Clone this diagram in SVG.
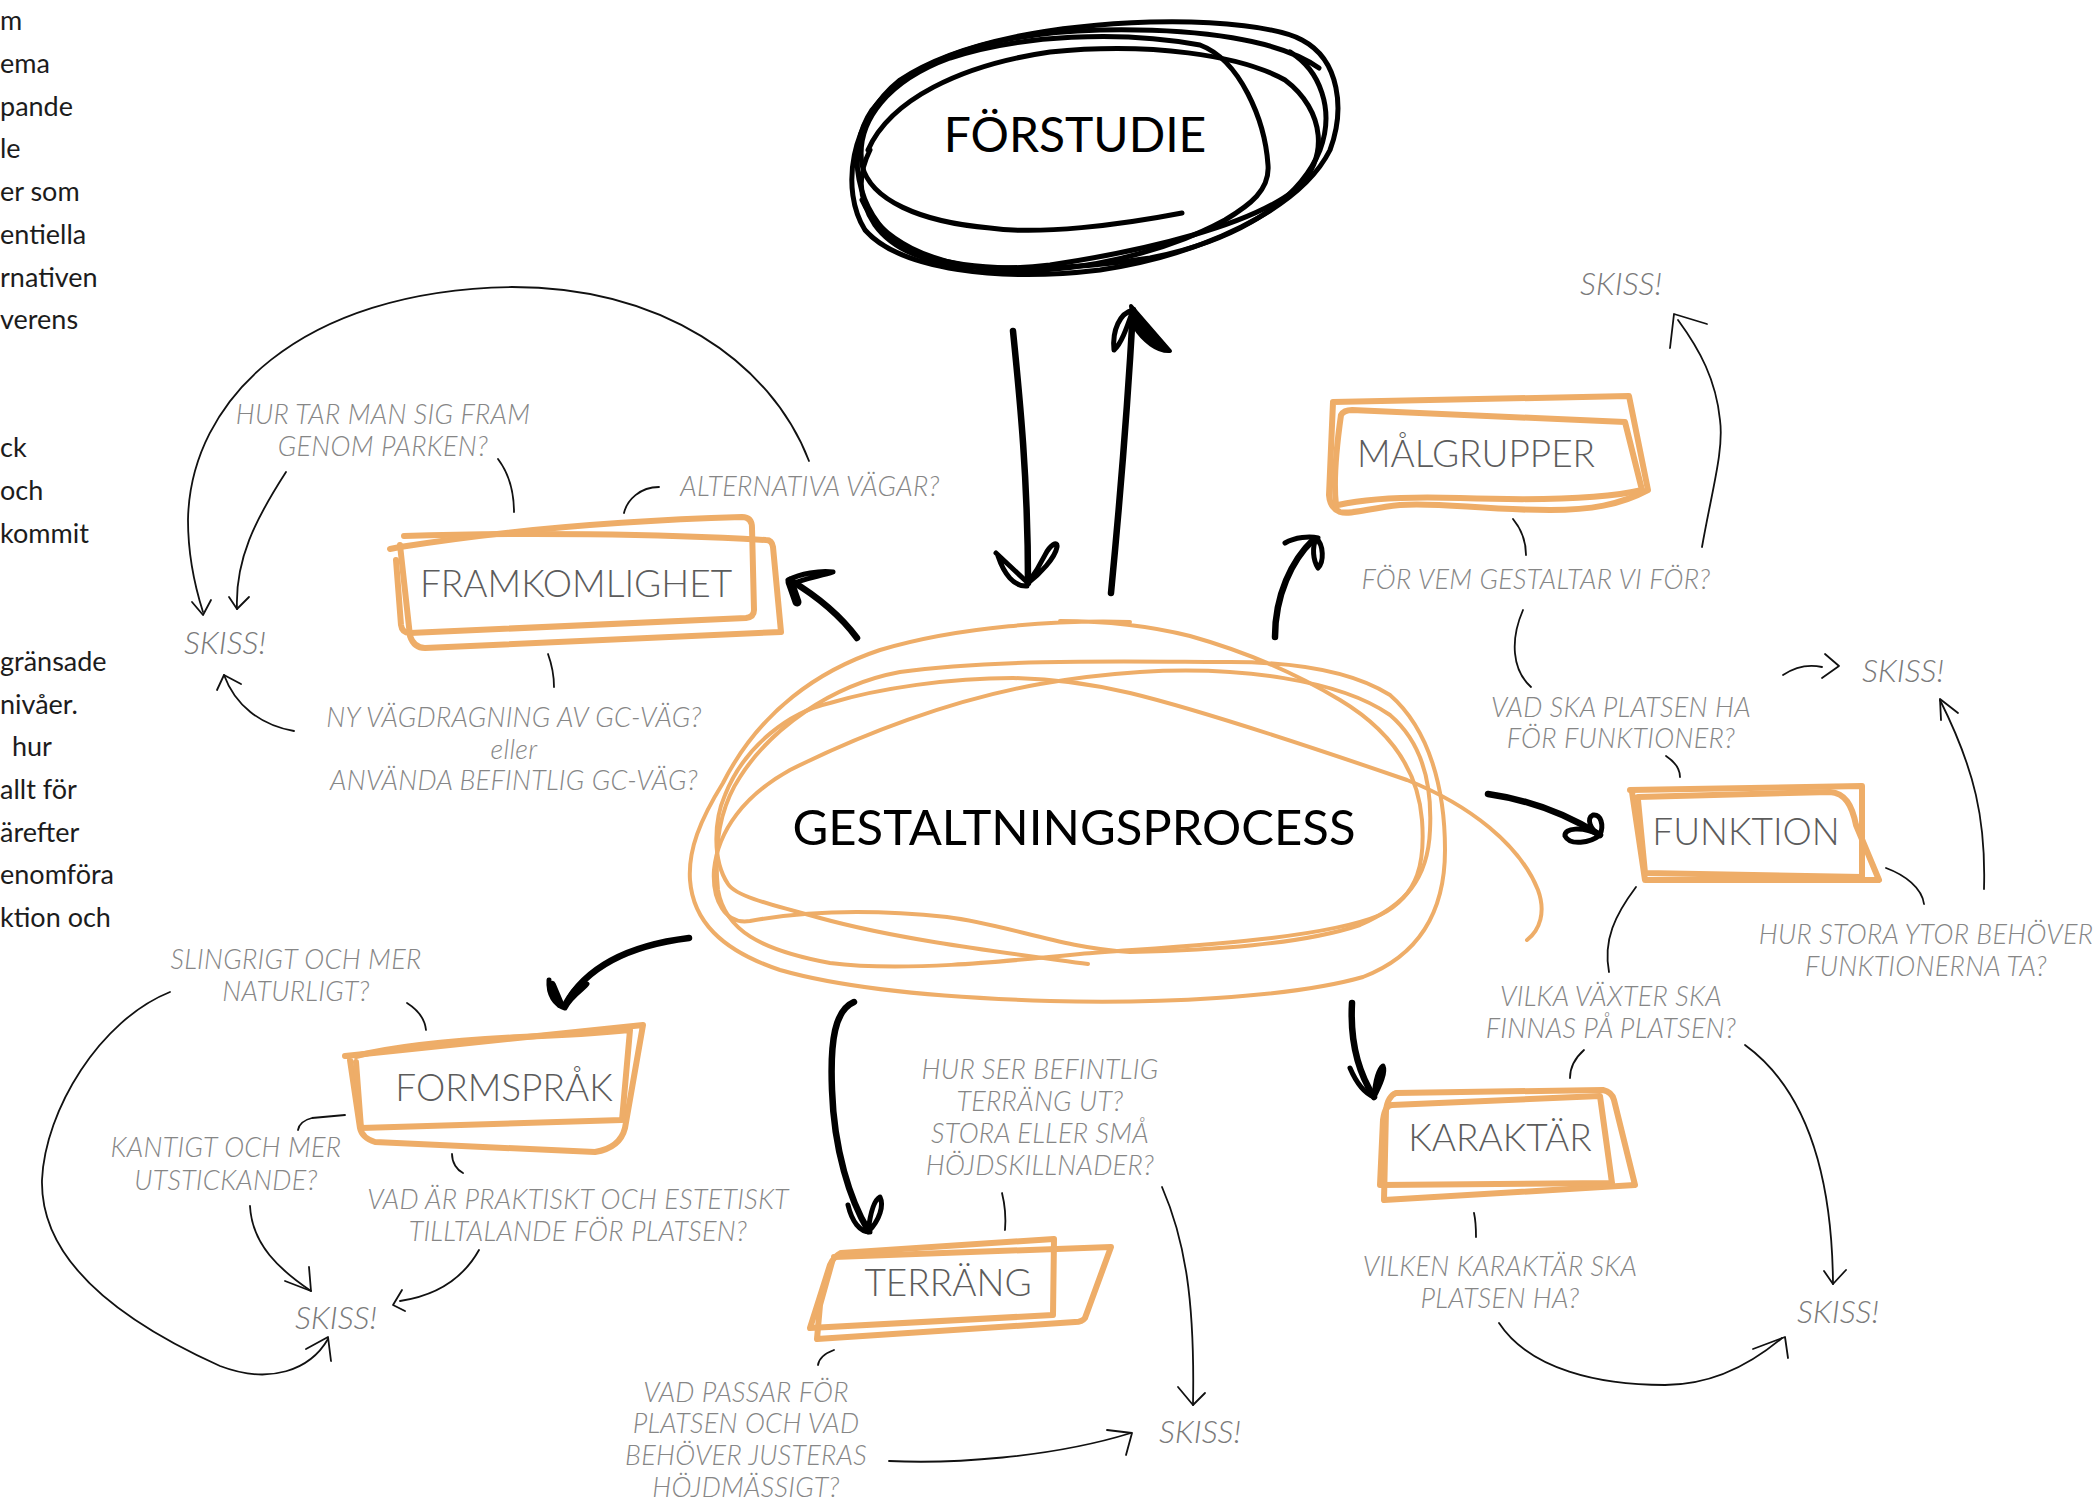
<svg xmlns="http://www.w3.org/2000/svg" width="2096" height="1507" viewBox="0 0 2096 1507">
  <defs>
    <style>
      .body { font-family: Lato, "Liberation Sans", sans-serif; font-size: 27px; fill: #1c1c1c; }
      .main { font-family: Lato, "Liberation Sans", sans-serif; font-size: 49px; fill: #000; text-anchor: middle; }
      .lbl { font-family: Lato, "Liberation Sans", sans-serif; font-weight: 300; font-size: 37px; fill: #5c5c5c; text-anchor: middle; }
      .q { font-family: Lato, "Liberation Sans", sans-serif; font-style: italic; font-weight: 300; font-size: 27px; letter-spacing: 0.3px; fill: #868686; text-anchor: middle; }
      .sk { font-family: Lato, "Liberation Sans", sans-serif; font-style: italic; font-weight: 300; font-size: 32px; fill: #7a7a7a; text-anchor: middle; }
      .box { fill: none; stroke: #EEAD68; stroke-width: 6; stroke-linejoin: round; stroke-linecap: round; }
      .scr { fill: none; stroke: #EEAD68; stroke-width: 4; stroke-linejoin: round; stroke-linecap: round; }
      .ink { fill: none; stroke: #000; stroke-width: 5; stroke-linejoin: round; stroke-linecap: round; }
      .thick { fill: none; stroke: #000; stroke-width: 6.5; stroke-linejoin: round; stroke-linecap: round; }
      .thin { fill: none; stroke: #111; stroke-width: 1.8; stroke-linejoin: round; stroke-linecap: round; }
    </style>
  </defs>

  <rect width="2096" height="1507" fill="#fff"/>

  <!-- running text along the left edge -->
  <g id="side-text" class="body">
    <text x="0" y="30">m</text>
    <text x="0" y="73">ema</text>
    <text x="0" y="116">pande</text>
    <text x="0" y="158">le</text>
    <text x="0" y="201">er som</text>
    <text x="0" y="244">entiella</text>
    <text x="0" y="287">rnativen</text>
    <text x="0" y="329">verens</text>
    <text x="0" y="457">ck</text>
    <text x="0" y="500">och</text>
    <text x="0" y="543">kommit</text>
    <text x="0" y="671">gränsade</text>
    <text x="0" y="714">nivåer.</text>
    <text x="12" y="756">hur</text>
    <text x="0" y="799">allt för</text>
    <text x="0" y="842">ärefter</text>
    <text x="0" y="884">enomföra</text>
    <text x="0" y="927">ktion och</text>
  </g>

  <!-- connectors -->
  <g id="connectors">
    <!-- heavy arrows -->
    <g id="heavy-arrows">
      <!-- FÖRSTUDIE down to GESTALTNINGSPROCESS -->
      <path class="thick" d="M1013,331 C1020,400 1028,480 1028,583"/>
      <path class="ink" d="M996,553 L1028,583 M998,556 C1004,574 1014,587 1027,586 M1028,583 C1040,574 1055,558 1057,547 C1058,540 1050,545 1045,555 C1040,565 1033,576 1028,583"/>
      <!-- GESTALTNINGSPROCESS up to FÖRSTUDIE -->
      <path class="thick" d="M1111,593 C1120,500 1128,400 1133,310"/>
      <path class="ink" d="M1133,310 C1120,313 1112,330 1114,350 C1121,344 1126,330 1133,310"/>
      <path d="M1131,306 L1170,351 C1158,352 1143,341 1134,326 Z" fill="#000" stroke="#000" stroke-width="4" stroke-linejoin="round"/>
      <!-- to FRAMKOMLIGHET -->
      <path class="thick" d="M857,638 C840,615 815,595 790,580"/>
      <path class="ink" d="M788,580 C800,574 820,570 833,572 C822,576 805,578 792,584"/>
      <path class="thick" d="M790,582 L797,602" style="stroke-width:9"/>
      <!-- to MÅLGRUPPER -->
      <path class="thick" d="M1275,637 C1275,595 1292,560 1313,540"/>
      <path class="ink" d="M1285,543 C1295,537 1310,536 1318,538 M1316,538 C1324,545 1324,562 1318,568 C1313,560 1312,548 1316,538"/>
      <!-- to FUNKTION -->
      <path class="thick" d="M1488,794 C1530,800 1568,815 1600,835"/>
      <path class="ink" d="M1600,835 C1590,843 1570,846 1565,836 C1564,828 1582,826 1600,835 M1600,835 C1604,825 1601,814 1593,815 C1586,818 1590,830 1600,835"/>
      <!-- to KARAKTÄR -->
      <path class="thick" d="M1352,1003 C1350,1040 1358,1072 1374,1097"/>
      <path class="ink" d="M1350,1068 C1356,1082 1364,1093 1374,1097 M1374,1097 C1380,1085 1386,1072 1383,1066 C1378,1070 1375,1085 1374,1097"/>
      <!-- to FORMSPRÅK -->
      <path class="thick" d="M689,938 C640,944 590,960 565,1005"/>
      <path class="ink" d="M549,980 C548,995 555,1005 565,1008 M565,1008 C572,995 585,988 587,984 C580,982 570,992 565,1008"/>
      <path class="thick" d="M552,985 L560,1004" style="stroke-width:8"/>
      <!-- to TERRÄNG -->
      <path class="thick" d="M854,1002 C835,1010 830,1040 832,1090 C834,1150 850,1200 868,1230"/>
      <path class="ink" d="M848,1205 C852,1222 860,1232 870,1232 M868,1232 C880,1220 884,1205 880,1197 C874,1200 870,1215 868,1232"/>
    </g>

    <!-- fine connectors around FRAMKOMLIGHET -->
    <path class="thin" d="M809,461 C770,360 660,287 512,287 C300,290 190,400 188,520 C188,560 196,590 203,612"/>
    <path class="thin" d="M192,602 L203,615 L211,600"/>
    <path class="thin" d="M286,472 C255,520 235,560 237,609"/>
    <path class="thin" d="M229,597 L237,609 L249,597"/>
    <path class="thin" d="M498,459 C510,475 514,495 514,512"/>
    <path class="thin" d="M659,487 C640,487 627,500 624,513"/>
    <path class="thin" d="M548,654 C552,665 554,675 554,687"/>
    <path class="thin" d="M294,731 C260,725 235,705 224,675"/>
    <path class="thin" d="M217,690 L224,675 L241,684"/>

    <!-- fine connectors around MÅLGRUPPER -->
    <path class="thin" d="M1513,519 C1522,530 1526,542 1526,555"/>
    <path class="thin" d="M1523,610 C1510,640 1512,670 1531,687"/>
    <path class="thin" d="M1702,547 C1712,490 1724,450 1720,420 C1716,380 1700,350 1678,320"/>
    <path class="thin" d="M1670,348 L1674,314 L1707,324"/>
    <path class="thin" d="M1783,675 C1795,667 1808,664 1822,667"/>
    <path class="thin" d="M1825,654 L1839,666 L1822,678"/>

    <!-- fine connectors around FUNKTION -->
    <path class="thin" d="M1666,756 C1675,762 1680,770 1680,777"/>
    <path class="thin" d="M1886,868 C1905,875 1922,888 1924,904"/>
    <path class="thin" d="M1984,889 C1986,820 1975,770 1940,700"/>
    <path class="thin" d="M1941,720 L1940,699 L1958,713"/>
    <path class="thin" d="M1636,887 C1615,915 1603,940 1609,972"/>
    <path class="thin" d="M1584,1050 C1575,1058 1570,1068 1570,1078"/>
    <path class="thin" d="M1745,1045 C1800,1085 1832,1160 1833,1284"/>
    <path class="thin" d="M1824,1271 L1833,1284 L1846,1270"/>

    <!-- fine connectors around KARAKTÄR -->
    <path class="thin" d="M1474,1213 C1476,1222 1476,1230 1476,1237"/>
    <path class="thin" d="M1499,1323 C1530,1370 1600,1385 1665,1385 C1710,1385 1750,1365 1782,1338"/>
    <path class="thin" d="M1753,1349 L1785,1337 L1788,1358"/>

    <!-- fine connectors around FORMSPRÅK -->
    <path class="thin" d="M407,1003 C418,1010 425,1020 426,1030"/>
    <path class="thin" d="M170,992 C100,1020 45,1110 42,1180 C40,1270 140,1330 220,1366 C270,1385 310,1370 328,1339"/>
    <path class="thin" d="M306,1349 L328,1337 L331,1361"/>
    <path class="thin" d="M345,1115 L312,1118 C304,1120 299,1124 298,1130"/>
    <path class="thin" d="M250,1206 C252,1245 280,1270 311,1291"/>
    <path class="thin" d="M285,1281 L311,1291 L309,1267"/>
    <path class="thin" d="M452,1154 C452,1163 457,1170 463,1173"/>
    <path class="thin" d="M479,1250 C465,1275 440,1295 400,1301"/>
    <path class="thin" d="M402,1290 L393,1305 L405,1311"/>

    <!-- fine connectors around TERRÄNG -->
    <path class="thin" d="M1002,1193 C1005,1205 1006,1218 1005,1230"/>
    <path class="thin" d="M1162,1187 C1185,1240 1195,1300 1193,1405"/>
    <path class="thin" d="M1178,1387 L1193,1405 L1205,1393"/>
    <path class="thin" d="M834,1350 C826,1353 819,1358 818,1365"/>
    <path class="thin" d="M889,1461 C950,1464 1050,1458 1131,1433"/>
    <path class="thin" d="M1107,1430 L1132,1433 L1126,1455"/>
  </g>

  <!-- FÖRSTUDIE -->
  <g id="node-forstudie">
    <path class="ink" d="M1302,40 C1340,60 1345,110 1330,150 C1300,210 1200,255 1100,270 C1000,282 900,270 865,230 C840,190 850,120 900,80 C960,40 1060,25 1150,22 C1220,20 1280,28 1302,40"/>
    <path class="ink" d="M1319,68 C1280,40 1200,28 1100,30 C990,33 910,60 872,110 C845,150 855,210 900,245 C950,275 1060,272 1150,258 C1240,240 1300,200 1320,150 C1335,110 1320,70 1290,52"/>
    <path class="ink" d="M1182,213 C1120,225 1040,235 990,228 C920,222 870,200 862,165 C855,120 890,80 950,58 C1020,35 1120,30 1200,45 C1240,60 1265,120 1268,165 C1270,190 1250,205 1225,220 C1170,250 1080,275 1000,270 C930,265 880,240 862,200"/>
    <path class="ink" d="M868,150 C890,100 960,65 1050,52 C1150,42 1240,55 1285,80 C1325,110 1330,160 1295,190 C1250,225 1150,250 1050,265 C960,275 900,260 875,225 C855,195 860,170 870,150"/>
    <text class="main" x="1075" y="152" style="font-size:48px">FÖRSTUDIE</text>
  </g>

  <!-- GESTALTNINGSPROCESS -->
  <g id="node-gestaltningsprocess">
    <path class="scr" d="M1130,622 C1060,620 960,626 880,650 C820,670 760,710 723,783 C700,820 688,850 690,880 C693,920 720,950 780,970 C850,990 950,998 1050,1001 C1150,1004 1290,998 1363,977 C1420,955 1445,910 1445,850 C1445,790 1430,730 1390,695 C1350,670 1290,662 1230,662 C1150,662 1000,658 900,672 C830,685 770,730 740,777 C718,810 714,850 718,890 C725,930 760,950 830,963 C900,972 1000,962 1080,954 C1180,946 1320,940 1380,915 C1420,895 1425,860 1422,820 C1418,770 1390,730 1340,700 C1290,670 1240,650 1190,636 C1150,626 1110,621 1060,621"/>
    <path class="scr" d="M1140,672 C1240,666 1340,680 1390,715 C1425,745 1432,790 1430,830 C1428,880 1405,905 1360,925 C1300,945 1210,950 1130,952 C1060,948 1010,925 947,917 C880,910 810,910 750,921 C725,925 712,900 714,870 C718,830 745,795 790,770 C860,735 950,700 1040,684 C1080,677 1110,674 1140,672"/>
    <path class="scr" d="M1088,964 C1000,952 900,940 820,918 C760,902 735,895 728,884 C712,860 714,820 725,795 C745,745 790,712 830,703 C880,688 950,678 1013,678 C1060,679 1100,686 1130,693 C1200,710 1320,750 1407,780 C1470,805 1520,845 1538,890 C1546,912 1540,930 1527,940"/>
    <text class="main" x="1074" y="845">GESTALTNINGSPROCESS</text>
  </g>

  <!-- FRAMKOMLIGHET -->
  <g id="node-framkomlighet">
    <path class="box" d="M390,549 L400,547 C520,528 640,520 742,517 Q752,517 752,528 L754,610 Q754,617 746,618 L410,633 Q402,633 401,625 L396,560"/>
    <path class="box" d="M404,536 C520,532 660,534 766,540 Q772,540 773,547 L781,632 L425,648 Q414,648 410,636 L400,545"/>
    <text class="lbl" x="576" y="597">FRAMKOMLIGHET</text>
  </g>

  <!-- MÅLGRUPPER -->
  <g id="node-malgrupper">
    <path class="box" d="M1333,402 L1629,396 L1648,490 C1620,505 1590,510 1550,510 C1480,510 1440,502 1400,505 C1370,508 1350,515 1340,512 Q1330,508 1329,495 L1333,402"/>
    <path class="box" d="M1341,415 Q1344,410 1352,410 L1625,422 L1642,490 C1600,500 1520,500 1460,498 C1400,496 1360,500 1338,505 M1341,415 C1336,450 1333,480 1336,505"/>
    <text class="lbl" x="1476" y="467">MÅLGRUPPER</text>
  </g>

  <!-- FUNKTION -->
  <g id="node-funktion">
    <path class="box" d="M1630,790 L1862,786 L1862,877 L1645,873 L1638,800"/>
    <path class="box" d="M1638,797 L1830,792 C1845,793 1852,805 1856,825 L1879,880 L1645,880 L1632,792"/>
    <text class="lbl" x="1746" y="845">FUNKTION</text>
  </g>

  <!-- KARAKTÄR -->
  <g id="node-karaktar">
    <path class="box" d="M1396,1093 L1603,1090 Q1612,1092 1614,1100 L1635,1185 L1384,1200 L1386,1110 Q1388,1096 1396,1093"/>
    <path class="box" d="M1392,1105 L1600,1096 L1612,1183 L1380,1185 L1383,1120 Q1385,1105 1392,1105"/>
    <text class="lbl" x="1500" y="1151">KARAKTÄR</text>
  </g>

  <!-- FORMSPRÅK -->
  <g id="node-formsprak">
    <path class="box" d="M345,1056 L643,1025 L625,1128 Q620,1148 595,1152 L375,1142 Q362,1138 360,1128 L350,1060"/>
    <path class="box" d="M356,1056 C400,1045 460,1040 520,1037 C570,1035 610,1032 630,1030 L622,1120 L361,1128 L356,1062"/>
    <text class="lbl" x="504" y="1101">FORMSPRÅK</text>
  </g>

  <!-- TERRÄNG -->
  <g id="node-terrang">
    <path class="box" d="M841,1253 L1054,1239 L1053,1315 L810,1328 L830,1265 Q834,1256 841,1253"/>
    <path class="box" d="M834,1257 L1111,1247 L1085,1318 Q1082,1322 1075,1322 L817,1339 L820,1305 L832,1262"/>
    <text class="lbl" x="948" y="1296">TERRÄNG</text>
  </g>

  <!-- question labels -->
  <g id="q-framkomlighet-1" class="q"><text x="383" y="424">HUR TAR MAN SIG FRAM</text><text x="383" y="456">GENOM PARKEN?</text></g>
  <g id="q-framkomlighet-2" class="q"><text x="810" y="496">ALTERNATIVA VÄGAR?</text></g>
  <g id="q-framkomlighet-3" class="q"><text x="514" y="727">NY VÄGDRAGNING AV GC-VÄG?</text><text x="514" y="759">eller</text><text x="514" y="790">ANVÄNDA BEFINTLIG GC-VÄG?</text></g>
  <g id="q-malgrupper" class="q"><text x="1536" y="589">FÖR VEM GESTALTAR VI FÖR?</text></g>
  <g id="q-funktion-1" class="q"><text x="1621" y="717">VAD SKA PLATSEN HA</text><text x="1621" y="748">FÖR FUNKTIONER?</text></g>
  <g id="q-funktion-2" class="q"><text x="1926" y="944">HUR STORA YTOR BEHÖVER</text><text x="1926" y="976">FUNKTIONERNA TA?</text></g>
  <g id="q-karaktar-1" class="q"><text x="1611" y="1006">VILKA VÄXTER SKA</text><text x="1611" y="1038">FINNAS PÅ PLATSEN?</text></g>
  <g id="q-karaktar-2" class="q"><text x="1500" y="1276">VILKEN KARAKTÄR SKA</text><text x="1500" y="1308">PLATSEN HA?</text></g>
  <g id="q-formsprak-1" class="q"><text x="296" y="969">SLINGRIGT OCH MER</text><text x="296" y="1001">NATURLIGT?</text></g>
  <g id="q-formsprak-2" class="q"><text x="226" y="1157">KANTIGT OCH MER</text><text x="226" y="1190">UTSTICKANDE?</text></g>
  <g id="q-formsprak-3" class="q"><text x="578" y="1209">VAD ÄR PRAKTISKT OCH ESTETISKT</text><text x="578" y="1241">TILLTALANDE FÖR PLATSEN?</text></g>
  <g id="q-terrang-1" class="q"><text x="1040" y="1079">HUR SER BEFINTLIG</text><text x="1040" y="1111">TERRÄNG UT?</text><text x="1040" y="1143">STORA ELLER SMÅ</text><text x="1040" y="1175">HÖJDSKILLNADER?</text></g>
  <g id="q-terrang-2" class="q"><text x="746" y="1402">VAD PASSAR FÖR</text><text x="746" y="1433">PLATSEN OCH VAD</text><text x="746" y="1465">BEHÖVER JUSTERAS</text><text x="746" y="1497">HÖJDMÄSSIGT?</text></g>

  <!-- sketch targets -->
  <g id="skiss-1" class="sk"><text x="225" y="654">SKISS!</text></g>
  <g id="skiss-2" class="sk"><text x="1621" y="295">SKISS!</text></g>
  <g id="skiss-3" class="sk"><text x="1903" y="682">SKISS!</text></g>
  <g id="skiss-4" class="sk"><text x="336" y="1329">SKISS!</text></g>
  <g id="skiss-5" class="sk"><text x="1200" y="1443">SKISS!</text></g>
  <g id="skiss-6" class="sk"><text x="1838" y="1323">SKISS!</text></g>
</svg>
